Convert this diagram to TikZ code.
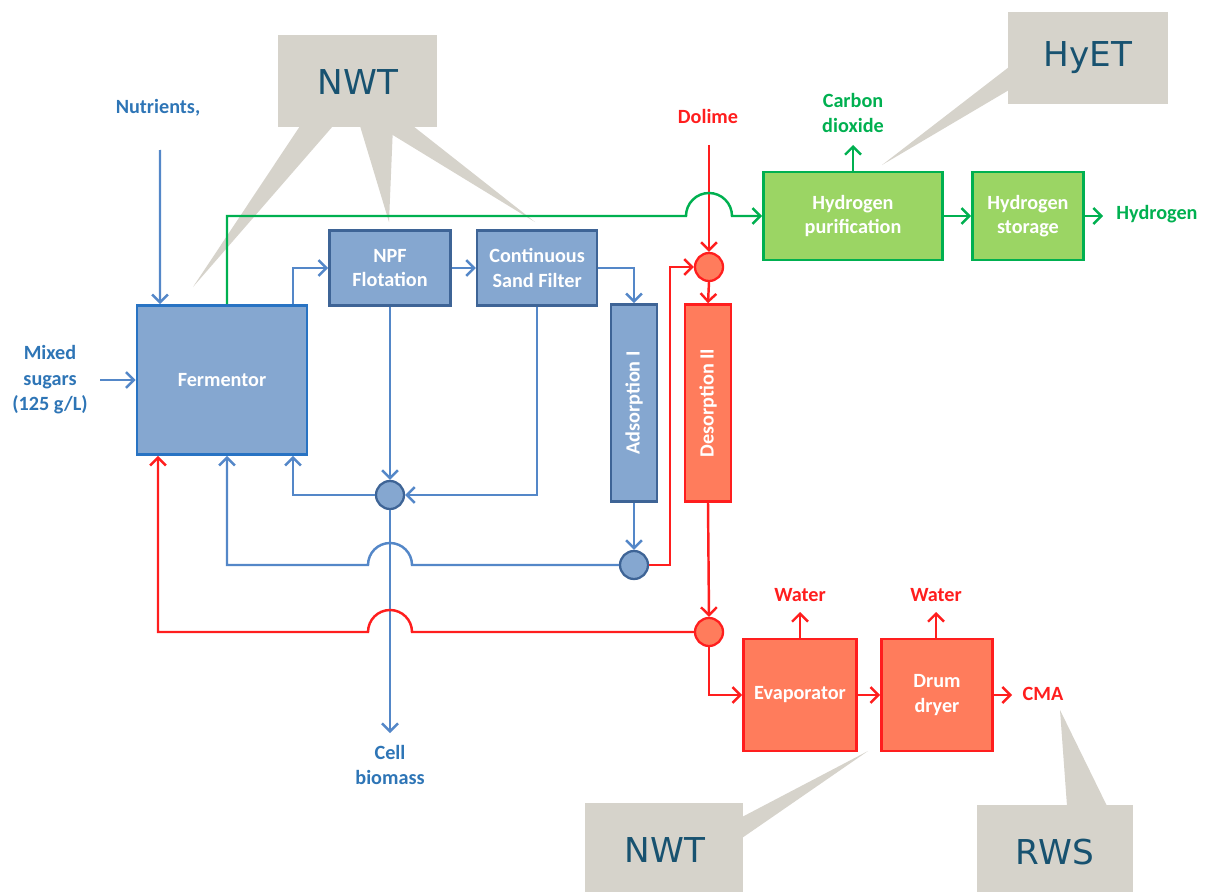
\documentclass[tikz,border=0pt]{standalone}
\usepackage{fontspec}
\setmainfont{Carlito}
\newfontfamily\calloutfont{DejaVu Sans}
\usetikzlibrary{shapes,arrows.meta,positioning}

\definecolor{procblue}{RGB}{133,167,208}
\definecolor{edgeblue}{RGB}{62,100,150}
\definecolor{fermedge}{RGB}{40,115,195}
\definecolor{lineblue}{RGB}{84,135,200}
\definecolor{textblue}{RGB}{46,117,182}
\definecolor{procred}{RGB}{255,124,92}
\definecolor{edgered}{RGB}{255,30,30}
\definecolor{procgreen}{RGB}{155,213,100}
\definecolor{edgegreen}{RGB}{0,176,80}
\definecolor{callgrey}{RGB}{214,211,203}
\definecolor{calltext}{RGB}{24,82,112}

\begin{document}
\begin{tikzpicture}[
    x=0.02cm, y=-0.02cm,
    node distance=0.48cm and 0.48cm,
    unitbox/.style={draw, rectangle, line width=1.5pt, align=center, text=white,
        font=\bfseries\fontsize{11.5}{14}\selectfont, inner sep=1pt},
    bluebox/.style={unitbox, fill=procblue, draw=edgeblue},
    redbox/.style={unitbox, fill=procred, draw=edgered},
    greenbox/.style={unitbox, fill=procgreen, draw=edgegreen},
    mixer/.style={circle, minimum size=0.56cm, inner sep=0pt, line width=1.3pt},
    streamtext/.style={font=\bfseries\fontsize{11.5}{14.5}\selectfont, align=center},
    flow/.style={line width=1.4pt, -{Straight Barb[length=4.5pt,width=9pt]}},
    bflow/.style={flow, draw=lineblue},
    rflow/.style={flow, draw=edgered},
    gflow/.style={flow, draw=edgegreen},
    callout/.style={fill=callgrey},
    callouttext/.style={text=calltext, font=\calloutfont\fontsize{19.5}{23}\selectfont}
]
\useasboundingbox (0,0) rectangle (1207,892);

\fill[callout] (278,35) rectangle (437,127);
\fill[callout] (300,126) -- (333,126) -- (193,287) -- cycle;
\fill[callout] (360,126) -- (393,126) -- (389,222) -- cycle;
\fill[callout] (378,126) -- (413,126) -- (535,222) -- cycle;
\node[callouttext] (nwttop) at (358,82) {NWT};
\fill[callout] (1008,12) rectangle (1168,104);
\fill[callout] (1009,67) -- (1009,90) -- (882,165) -- cycle;
\node[callouttext] (hyet) at (1088,58) {HyET};
\fill[callout] (585,803) rectangle (743,892);
\fill[callout] (742,817) -- (742,838) -- (868,751) -- cycle;
\node[callouttext] (nwtbot) at (665,850) {NWT};
\fill[callout] (977,805) rectangle (1133,892);
\fill[callout] (1067,806) -- (1107,806) -- (1060,710) -- cycle;
\node[callouttext] (rws) at (1055,852) {RWS};

\node[bluebox, draw=fermedge, minimum width=3.4cm, minimum height=2.98cm] (ferm) at (222,380) {Fermentor};
\node[bluebox, minimum width=2.42cm, minimum height=1.5cm] (npf) at (390,268) {NPF\\Flotation};
\node[bluebox, minimum width=2.4cm, minimum height=1.5cm, right=of npf] (csf) {Continuous\\Sand Filter};
\node[bluebox, minimum width=0.92cm, minimum height=3.94cm] (ads) at (634,403) {\rotatebox{90}{Adsorption I}};
\node[redbox, minimum width=0.92cm, minimum height=3.94cm] (des) at (708,403) {\rotatebox{90}{Desorption II}};
\node[mixer, fill=procblue, draw=edgeblue] (bmix) at (390,495) {};
\node[mixer, fill=procblue, draw=edgeblue] (brec) at (634,565) {};
\node[mixer, fill=procred, draw=edgered] (rmix) at (709,267) {};
\node[mixer, fill=procred, draw=edgered] (rsplit) at (709,632) {};
\node[redbox, minimum width=2.26cm, minimum height=2.24cm] (evap) at (800,695) {Evaporator};
\node[redbox, minimum width=2.22cm, minimum height=2.24cm] (drum) at (937,695) {Drum\\dryer};
\node[greenbox, minimum width=3.58cm, minimum height=1.76cm] (hpur) at (853,216) {Hydrogen\\purification};
\node[greenbox, minimum width=2.22cm, minimum height=1.76cm] (hsto) at (1028,216) {Hydrogen\\storage};

\node[streamtext, text=textblue] (nutr) at (158,108) {Nutrients,};
\node[streamtext, text=textblue] (sugars) at (50,380) {Mixed\\sugars\\(125 g/L)};
\node[streamtext, text=textblue] (biomass) at (390,765) {Cell\\biomass};
\node[streamtext, text=edgered] (dolime) at (708,116) {Dolime};
\node[streamtext, text=edgegreen] (co2) at (853,113) {Carbon\\dioxide};
\node[streamtext, text=edgegreen] (hydro) at (1157,214) {Hydrogen};
\node[streamtext, text=edgered] (water1) at (800,595) {Water};
\node[streamtext, text=edgered] (water2) at (936,595) {Water};
\node[streamtext, text=edgered] (cma) at (1043,694) {CMA};

\coordinate (nutrin) at (160,150);
\coordinate (sugarin) at (100,380);
\coordinate (cellout) at (390,733);
\coordinate (dolimein) at (709,145);
\coordinate (co2out) at (853,145);
\coordinate (h2out) at (1103,216);
\coordinate (cmaout) at (1012,695);
\coordinate (w1out) at (800,612);
\coordinate (w2out) at (936,612);

\draw[bflow] (nutrin) -- ([xshift=-1.24cm]ferm.north);
\draw[bflow] (sugarin) -- (ferm.west);
\draw[bflow] ([xshift=1.42cm]ferm.north) |- (npf.west);
\draw[bflow] (npf) -- (csf);
\draw[bflow] (csf.east) -| (ads.north);
\draw[bflow] (npf.south) -- (bmix.north);
\draw[bflow] (csf.south) |- (bmix.east);
\draw[bflow] (bmix.west) -| ([xshift=1.42cm]ferm.south);
\draw[bflow] (bmix.south) -- (cellout);
\draw[bflow] (ads.south) -- (brec.north);
\draw[bflow] (brec.west) -- (412,565) arc[start angle=0, end angle=180, radius=0.44cm] -| ([xshift=0.1cm]ferm.south);

\draw[rflow] (brec.east) -- (670,565) |- (rmix.west);
\draw[rflow] (dolimein) -- (rmix.north);
\draw[rflow] (rmix.south) -- (des.north);
\draw[rflow] (des.south) -- (rsplit.north);
\draw[rflow] (rsplit.west) -- (412,632) arc[start angle=0, end angle=180, radius=0.44cm] -| ([xshift=-1.28cm]ferm.south);
\draw[rflow] (rsplit.south) |- (evap.west);
\draw[rflow] (evap) -- (drum);
\draw[rflow] (drum.east) -- (cmaout);
\draw[rflow] (evap.north) -- (w1out);
\draw[rflow] ([xshift=-0.02cm]drum.north) -- (w2out);

\draw[gflow] ([xshift=0.1cm]ferm.north) |- (686,216) arc[start angle=180, end angle=0, radius=0.46cm] -- (hpur.west);
\draw[gflow] (hpur) -- (hsto);
\draw[gflow] (hsto.east) -- (h2out);
\draw[gflow] (hpur.north) -- (co2out);
\end{tikzpicture}
\end{document}
